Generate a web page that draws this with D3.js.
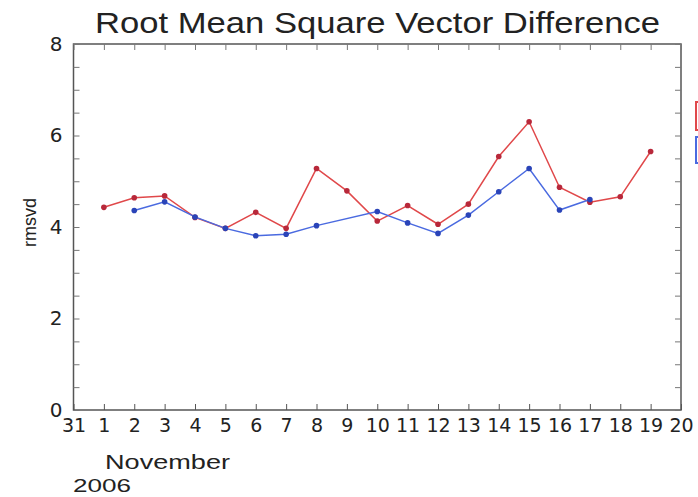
<!DOCTYPE html>
<html><head><meta charset="utf-8">
<script src="https://cdn.jsdelivr.net/npm/d3@7"></script>
<style>body{margin:0;background:#fff}svg{display:block}text{font-family:"Liberation Sans",Arial,sans-serif;fill:#222}</style>
</head><body><svg id="c" width="698" height="497"></svg>
<script>
const days = d3.range(0, 21); // 0 = 31 Oct, 1..20 = Nov 1..20
const dayLabels = ["31","1","2","3","4","5","6","7","8","9","10","11","12","13","14","15","16","17","18","19","20"];
const redDays = [1,2,3,4,5,6,7,8,9,10,11,12,13,14,15,16,17,18,19];
const redVals = [4.43,4.64,4.68,4.21,3.97,4.32,3.97,5.28,4.79,4.13,4.47,4.06,4.50,5.54,6.30,4.87,4.54,4.66,5.65];
const blueDays = [2,3,4,5,6,7,8,10,11,12,13,14,15,16,17];
const blueVals = [4.36,4.55,4.22,3.97,3.81,3.84,4.03,4.34,4.09,3.86,4.26,4.77,5.28,4.37,4.60];
const yTicks = [0,2,4,6,8];

const svg = d3.select("#c");
const L=73.5, R=681, T=44, B=410;
const x = d3.scaleLinear().domain([0,20]).range([L,R]);
const y = d3.scaleLinear().domain([0,8]).range([B,T]);
const tickFont = "'DejaVu Sans', 'Liberation Sans', sans-serif";

svg.append("text").attr("x",95).attr("y",33).attr("textLength",565).attr("lengthAdjust","spacingAndGlyphs")
  .attr("font-size",30).text("Root Mean Square Vector Difference");

// frame
svg.append("rect").attr("x",L).attr("y",T).attr("width",R-L).attr("height",B-T)
  .attr("fill","none").attr("stroke","#555").attr("stroke-width",1.5);

// bottom axis
const xb = svg.append("g").attr("transform",`translate(0,${B})`)
  .call(d3.axisBottom(x).tickValues(days).tickSize(-6).tickPadding(9).tickFormat((d,i)=>dayLabels[i]));
xb.select(".domain").remove();
xb.selectAll("line").attr("stroke","#555");
xb.selectAll("text").style("font-size","19px").style("fill","#222").style("font-family",tickFont);
// top axis ticks
const xt = svg.append("g").attr("transform",`translate(0,${T})`)
  .call(d3.axisTop(x).tickValues(days).tickSize(-6).tickFormat(""));
xt.select(".domain").remove(); xt.selectAll("line").attr("stroke","#777");

// left axis
const yl = svg.append("g").attr("transform",`translate(${L},0)`)
  .call(d3.axisLeft(y).tickValues(yTicks).tickSize(0).tickPadding(11).tickFormat(d3.format("d")));
yl.select(".domain").remove();
yl.selectAll("text").style("font-size","20px").style("fill","#222").style("font-family",tickFont);
const minor = d3.range(0,8.01,0.5);
const yml = svg.append("g").attr("transform",`translate(${L},0)`)
  .call(d3.axisLeft(y).tickValues(minor).tickSize(-6).tickFormat(""));
yml.select(".domain").remove(); yml.selectAll("line").attr("stroke","#777");
const ymr = svg.append("g").attr("transform",`translate(${R},0)`)
  .call(d3.axisRight(y).tickValues(minor).tickSize(-6).tickFormat(""));
ymr.select(".domain").remove(); ymr.selectAll("line").attr("stroke","#777");

svg.append("text").attr("transform",`translate(36,${y(4.1)}) rotate(-90)`).attr("text-anchor","middle")
  .attr("font-size",18).text("rmsvd");
svg.append("text").attr("x",105).attr("y",469).attr("font-size",20).attr("textLength",125)
  .attr("lengthAdjust","spacingAndGlyphs").text("November");
svg.append("text").attr("x",73).attr("y",492).attr("font-size",19).attr("textLength",58)
  .attr("lengthAdjust","spacingAndGlyphs").text("2006");

function series(dx, vals, col, dark){
  const pts = dx.map((d,i)=>[d,vals[i]]);
  svg.append("path").datum(pts).attr("fill","none").attr("stroke",col).attr("stroke-width",1.5)
    .attr("d", d3.line().x(d=>x(d[0])).y(d=>y(d[1])));
  svg.selectAll(null).data(pts).enter().append("circle")
    .attr("cx",d=>x(d[0])).attr("cy",d=>y(d[1])).attr("r",2.8).attr("fill",dark);
}
series(redDays, redVals, "#e0484a", "#b8283a");
series(blueDays, blueVals, "#4a6ae0", "#2a44b8");

// legend (cut off at the right edge)
svg.append("rect").attr("x",696).attr("y",102).attr("width",20).attr("height",28)
  .attr("fill","none").attr("stroke","#e0484a").attr("stroke-width",2);
svg.append("rect").attr("x",696).attr("y",137).attr("width",20).attr("height",26)
  .attr("fill","none").attr("stroke","#4a6ae0").attr("stroke-width",2);
</script></body></html>
